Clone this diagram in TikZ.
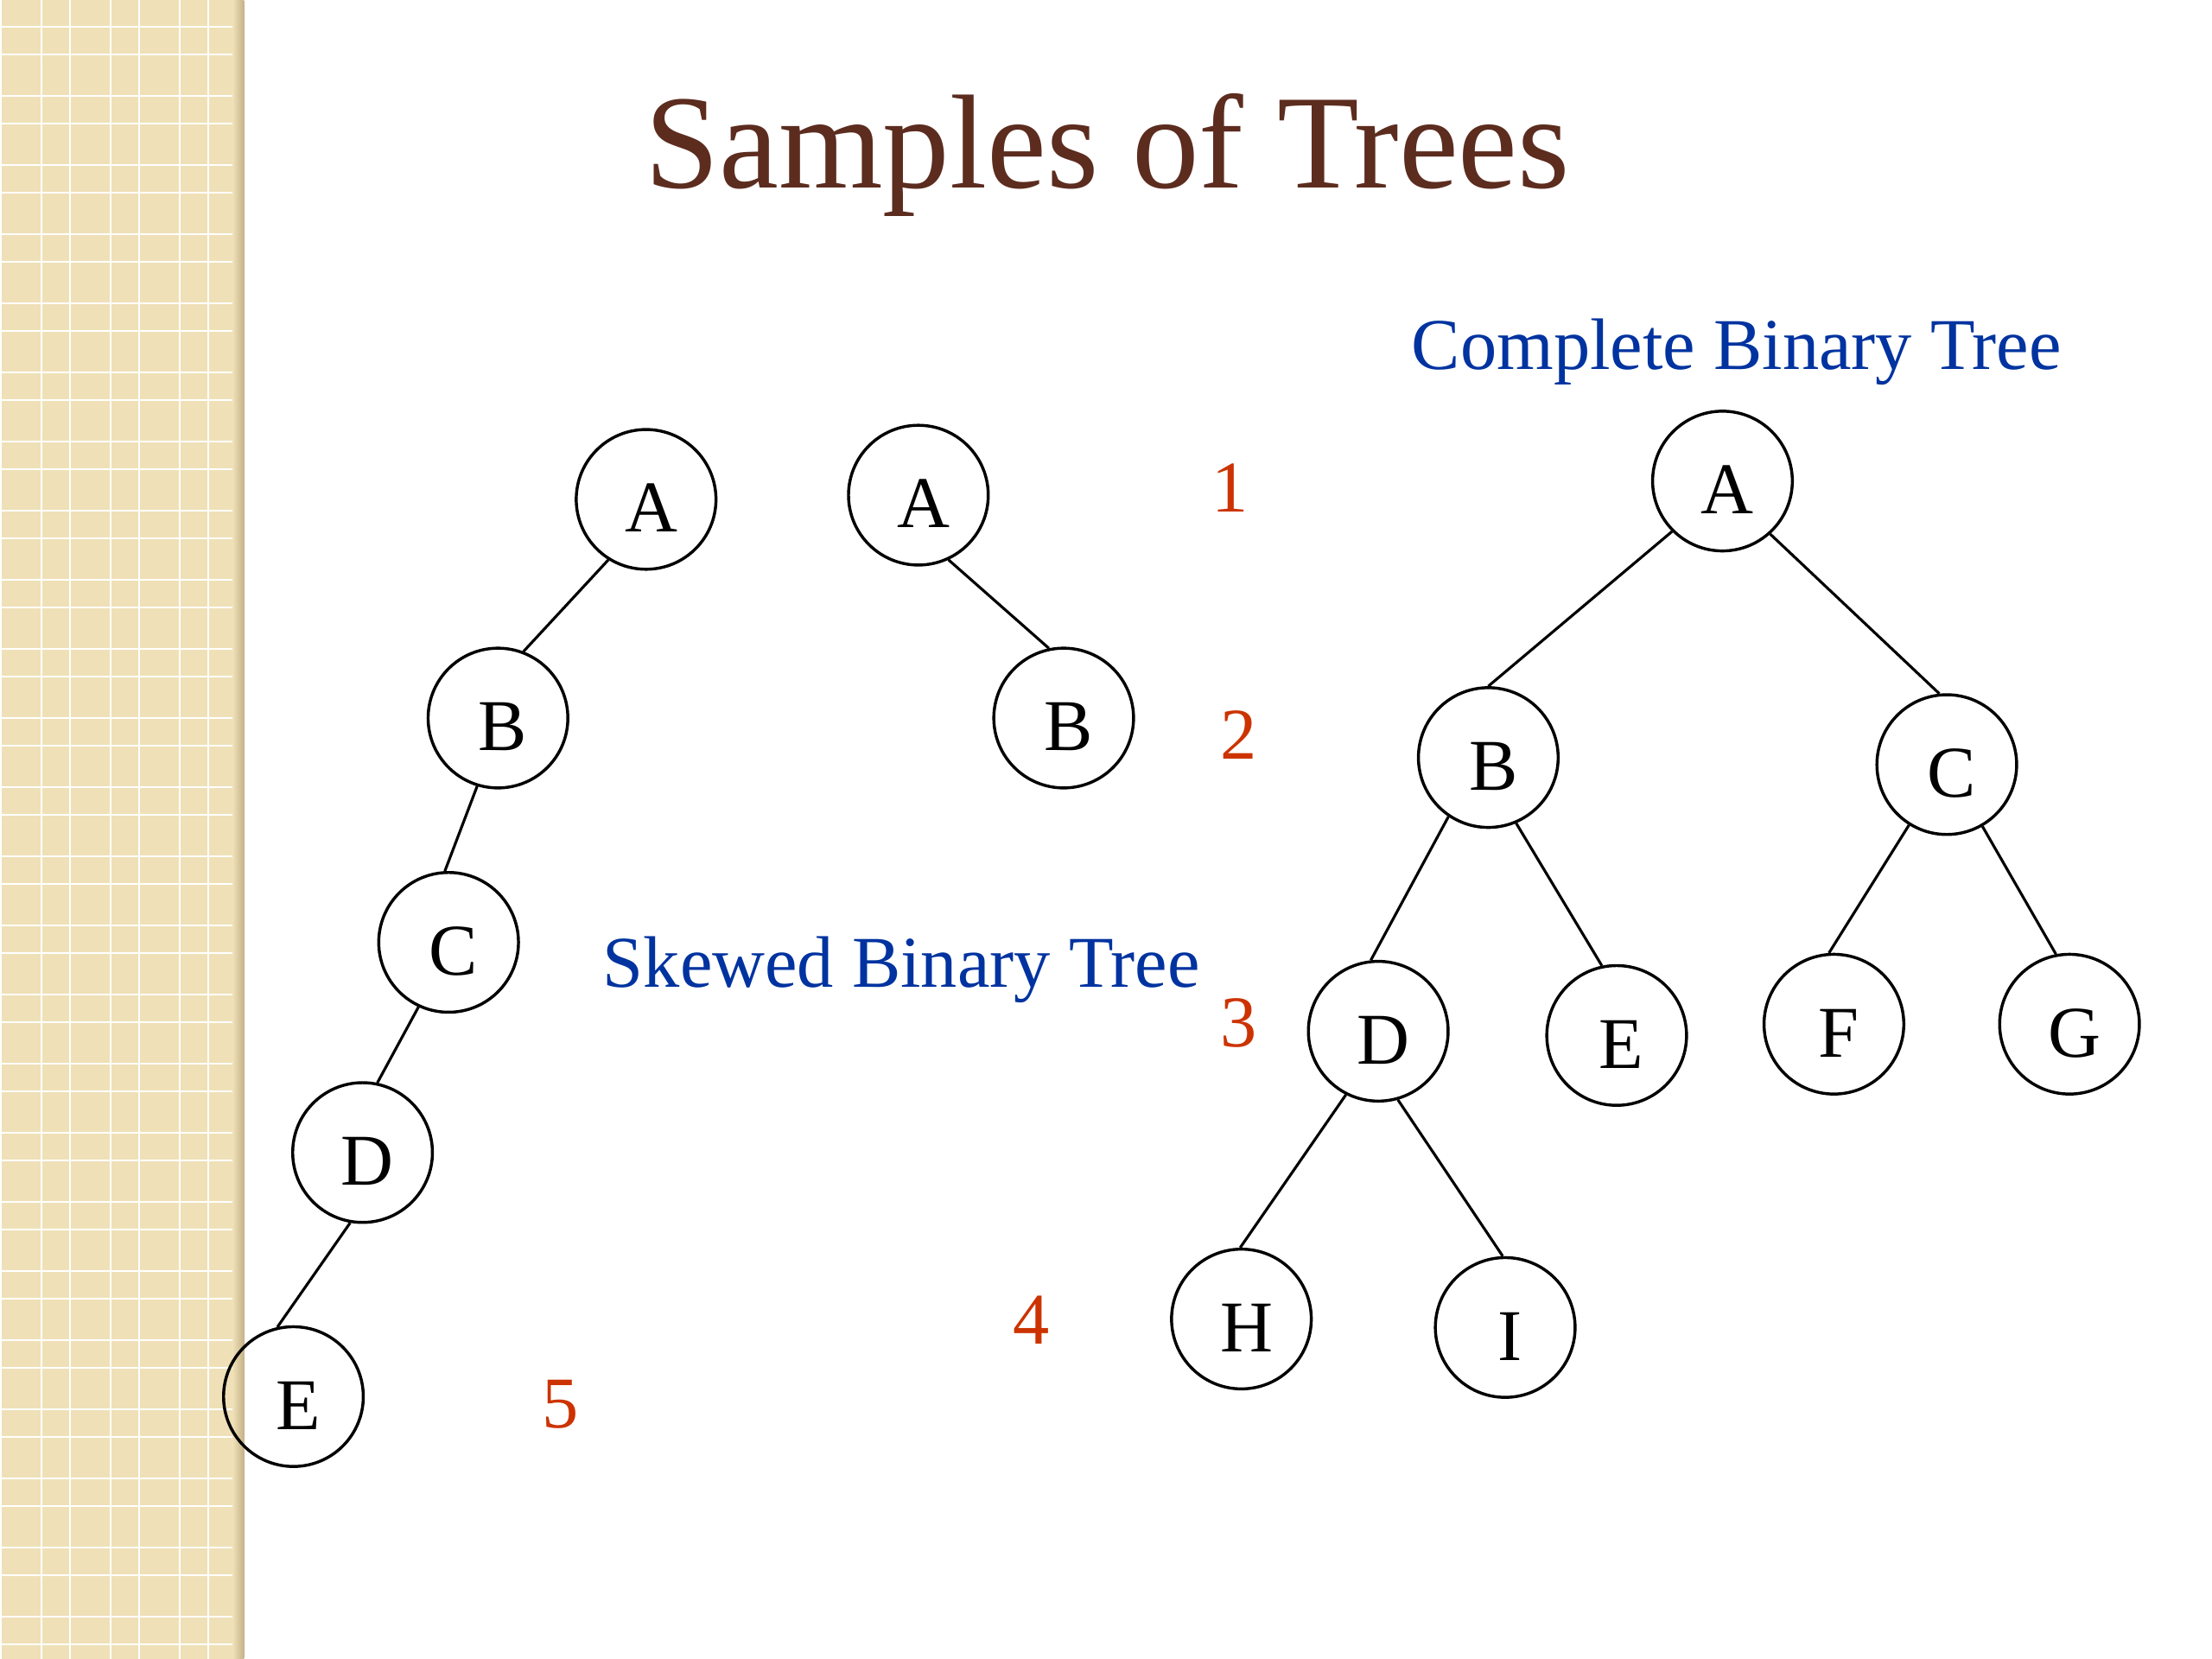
\documentclass[tikz,border=0pt]{standalone}
\usepackage{fontspec}
\setmainfont{Liberation Serif}
\definecolor{titlebrown}{RGB}{92,44,31}
\definecolor{labelblue}{RGB}{0,51,160}
\definecolor{levelred}{RGB}{204,51,0}
\definecolor{stripebeige}{RGB}{239,224,183}
\definecolor{stripeshadow}{RGB}{196,178,136}
\tikzset{
  treenode/.style={circle,draw=black,line width=0.6pt,minimum size=0.99cm,inner sep=0pt,
    font=\fontsize{14.7}{17}\selectfont,text height=13.2pt,text depth=0pt,
    execute at begin node={\hspace*{2pt}}},
  treeedge/.style={draw=black,line width=0.55pt},
  levelnum/.style={text=levelred,font=\fontsize{14.7}{17}\selectfont,anchor=base,inner sep=0pt},
  treelabel/.style={text=labelblue,font=\fontsize{14.7}{17}\selectfont,anchor=base,inner sep=0pt},
  gridline/.style={white,line width=0.35pt},
}
\begin{document}
\begin{tikzpicture}[x=0.01cm,y=-0.01cm]
\useasboundingbox (0,0) rectangle (1568,1176);
\fill[white] (0,0) rectangle (1568,1176);
% left decorative stripe
\begin{scope}
  \clip (0,0) rectangle (173,1176);
  \fill[stripebeige] (0,0) rectangle (173,1176);
  \foreach \k in {-1,...,24}{
    \draw[gridline] ({29.4+49*\k},0) -- ({29.4+49*\k},1176);
    \draw[gridline] ({49.6+49*\k},0) -- ({49.6+49*\k},1176);
    \draw[gridline] (0,{19.0+49*\k}) -- (173,{19.0+49*\k});
    \draw[gridline] (0,{38.6+49*\k}) -- (173,{38.6+49*\k});
  }
  \shade[left color=stripebeige,right color=stripeshadow] (165,0) rectangle (173,1176);
\end{scope}
% title
\node[text=titlebrown,font=\fontsize{27}{32}\selectfont,anchor=base,inner sep=0pt] (title) at (785,133) {Samples of Trees};
% labels
\node[treelabel] (cbt) at (1231,262) {Complete Binary Tree};
\node[treelabel] (sbt) at (639,700) {Skewed Binary Tree};
% level numbers
\node[levelnum] (n1) at (872,363) {1};
\node[levelnum] (n2) at (878,538) {2};
\node[levelnum] (n3) at (878,742) {3};
\node[levelnum] (n4) at (731,953) {4};
\node[levelnum] (n5) at (397,1012) {5};
% skewed tree
\node[treenode] (sA) at (458,354) {A};
\node[treenode] (sB) at (353,509) {B};
\node[treenode] (sC) at (318,668) {C};
\node[treenode] (sD) at (257,817) {D};
\node[treenode] (sE) at (208,990) {E};
\draw[treeedge] (sA.-122) -- (sB.69);
\draw[treeedge] (sB.-107) -- (sC.93);
\draw[treeedge] (sC.-115) -- (sD.78);
\draw[treeedge] (sD.-100) -- (sE.103);
% small tree
\node[treenode] (tA) at (651,351) {A};
\node[treenode] (tB) at (754,509) {B};
\draw[treeedge] (tA.-65) -- (tB.102);
% complete binary tree
\node[treenode] (cA) at (1221,341) {A};
\node[treenode] (cB) at (1055,537) {B};
\node[treenode] (cC) at (1380,542) {C};
\node[treenode] (cD) at (977,731) {D};
\node[treenode] (cE) at (1146,734) {E};
\node[treenode] (cF) at (1300,726) {F};
\node[treenode] (cG) at (1467,726) {G};
\node[treenode] (cH) at (880,935) {H};
\node[treenode] (cI) at (1067,941) {I};
\draw[treeedge] (cA.-135) -- (cB.90);
\draw[treeedge] (cA.-48) -- (cC.96);
\draw[treeedge] (cB.-124) -- (cD.96);
\draw[treeedge] (cB.-67) -- (cE.102);
\draw[treeedge] (cC.-122) -- (cF.94);
\draw[treeedge] (cC.-60) -- (cG.101);
\draw[treeedge] (cD.-117) -- (cH.91);
\draw[treeedge] (cD.-74) -- (cI.92);
\end{tikzpicture}
\end{document}
